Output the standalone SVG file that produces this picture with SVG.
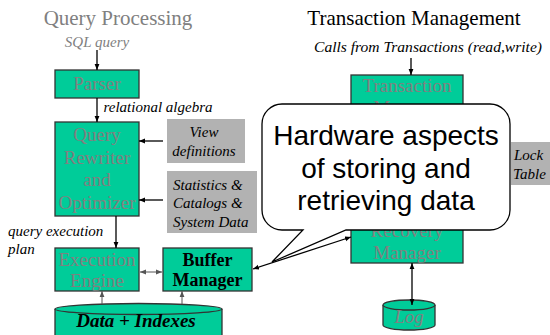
<svg xmlns="http://www.w3.org/2000/svg" width="550" height="335" viewBox="0 0 550 335">
<style>
.box{fill:#00CC99;stroke:#333;stroke-width:1.3}
.gbox{fill:#B2B2B2;stroke:none}
text{font-family:'Liberation Serif','Times New Roman','DejaVu Serif',serif}
.t{text-anchor:middle}
.gray{fill:#808080}
.lbl{font-style:italic;font-size:15px;fill:#000}
.bl{stroke:#000;stroke-width:1.3;fill:none}
.gl{stroke:#555;stroke-width:1;fill:none}
text.call{font-family:'Liberation Sans','DejaVu Sans',sans-serif;font-size:28px;text-anchor:middle;fill:#000}
</style>
<defs>
<marker id="ah" viewBox="0 0 10 10" refX="10" refY="5" markerWidth="6" markerHeight="6" orient="auto-start-reverse" markerUnits="userSpaceOnUse"><path d="M0,1 L10,5 L0,9 Z" fill="#000"/></marker>
<marker id="ahg" viewBox="0 0 10 10" refX="10" refY="5" markerWidth="6" markerHeight="6" orient="auto-start-reverse" markerUnits="userSpaceOnUse"><path d="M0,1 L10,5 L0,9 Z" fill="#555"/></marker>
</defs>
<rect width="550" height="335" fill="#fff"/>

<text x="118" y="25" class="t gray" font-size="21">Query Processing</text>
<text x="97" y="47" class="lbl" text-anchor="middle" font-size="14" style="fill:#808080">SQL query</text>
<text x="414" y="25" class="t" font-size="21" fill="#000">Transaction Management</text>
<text x="428" y="52" class="lbl" text-anchor="middle" font-size="14" textLength="228" lengthAdjust="spacingAndGlyphs">Calls from Transactions (read,write)</text>

<g id="parser">
<rect x="55" y="70" width="84" height="28" class="box"/>
<text x="97" y="90" class="t gray" font-size="19">Parser</text>
</g>
<g id="rewriter">
<rect x="55" y="122" width="84" height="94" class="box"/>
<text x="97" y="141" class="t gray" font-size="19">Query</text>
<text x="97" y="164" class="t gray" font-size="19">Rewriter</text>
<text x="97" y="186" class="t gray" font-size="19">and</text>
<text x="97" y="209" class="t gray" font-size="19">Optimizer</text>
</g>
<g id="view">
<rect x="167" y="119" width="78" height="44" class="gbox"/>
<text x="204" y="137" class="lbl" text-anchor="middle">View</text>
<text x="204" y="156" class="lbl" text-anchor="middle">definitions</text>
</g>
<g id="stats">
<rect x="167" y="171" width="90" height="62" class="gbox"/>
<text x="173" y="190" class="lbl">Statistics &amp;</text>
<text x="173" y="208" class="lbl">Catalogs &amp;</text>
<text x="173" y="227" class="lbl">System Data</text>
</g>
<text x="8" y="236" class="lbl">query execution</text>
<text x="8" y="254" class="lbl">plan</text>
<text x="158" y="112" class="lbl" text-anchor="middle">relational algebra</text>
<g id="exec">
<rect x="55" y="248" width="84" height="43" class="box"/>
<text x="97" y="266" class="t gray" font-size="19">Execution</text>
<text x="97" y="287" class="t gray" font-size="19">Engine</text>
</g>
<g id="buffer">
<rect x="163" y="248" width="89" height="43" class="box"/>
<text x="207.5" y="265.5" class="t" font-size="18" font-weight="bold" fill="#000">Buffer</text>
<text x="207.5" y="286" class="t" font-size="18" font-weight="bold" fill="#000">Manager</text>
</g>
<g id="data">
<path d="M55,309 V340 H222 V309" class="box"/>
<ellipse cx="138.5" cy="309" rx="83.5" ry="5.5" class="box"/>
<text x="136" y="327" class="t" font-size="19" font-weight="bold" font-style="italic" fill="#000">Data + Indexes</text>
</g>

<g id="txnmgr">
<rect x="351" y="75" width="112" height="45" class="box"/>
<text x="407" y="92" class="t gray" font-size="19">Transaction</text>
<text x="407" y="114" class="t gray" font-size="19">Manager</text>
</g>
<g id="recovery">
<rect x="351" y="212" width="112" height="51" class="box"/>
<text x="407" y="237" class="t gray" font-size="19">Recovery</text>
<text x="407" y="259" class="t gray" font-size="19">Manager</text>
</g>
<g id="locktable">
<rect x="511" y="142" width="45" height="43" class="gbox"/>
<text x="514" y="160" class="lbl" font-size="14">Lock</text>
<text x="513" y="179" class="lbl" font-size="14">Table</text>
</g>
<g id="log">
<path d="M383,305 V325 A26,5 0 0 0 435,325 V305" class="box"/>
<ellipse cx="409" cy="305" rx="26" ry="5" class="box"/>
<text x="409" y="323" class="t gray" font-size="19" font-style="italic">Log</text>
</g>

<g id="connectors">
<line x1="97" y1="50" x2="97" y2="70" class="bl" marker-end="url(#ah)"/>
<line x1="97" y1="98" x2="97" y2="122" class="bl" marker-end="url(#ah)"/>
<line x1="163" y1="141" x2="139" y2="141" class="bl" marker-end="url(#ah)"/>
<line x1="163" y1="200" x2="139" y2="200" class="bl" marker-end="url(#ah)"/>
<line x1="116" y1="216" x2="116" y2="248" class="bl" marker-end="url(#ah)"/>
<line x1="140" y1="272" x2="162" y2="272" class="gl" marker-start="url(#ahg)" marker-end="url(#ahg)"/>
<line x1="102" y1="304" x2="102" y2="291" class="gl" marker-end="url(#ahg)"/>
<line x1="182" y1="304" x2="182" y2="291" class="gl" marker-end="url(#ahg)"/>
<line x1="411" y1="58" x2="411" y2="75" class="bl" marker-end="url(#ah)"/>
<line x1="412" y1="263" x2="412" y2="305" class="bl" marker-start="url(#ah)" marker-end="url(#ah)"/>
</g>

<g id="callout">
<path d="M282,104 H490 A20,20 0 0 1 510,124 V210 A20,20 0 0 1 490,230 H346 L272,262 L303,230 H282 A20,20 0 0 1 262,210 V124 A20,20 0 0 1 282,104 Z" fill="#fff" stroke="#000" stroke-width="1.3"/>
<text x="386" y="145" class="call">Hardware aspects</text>
<text x="386" y="178" class="call">of storing and</text>
<text x="386" y="210" class="call">retrieving data</text>
</g>
<g id="connectors2">
<line x1="253" y1="269" x2="351" y2="237" class="bl" marker-start="url(#ah)" marker-end="url(#ah)"/>
</g>
</svg>
